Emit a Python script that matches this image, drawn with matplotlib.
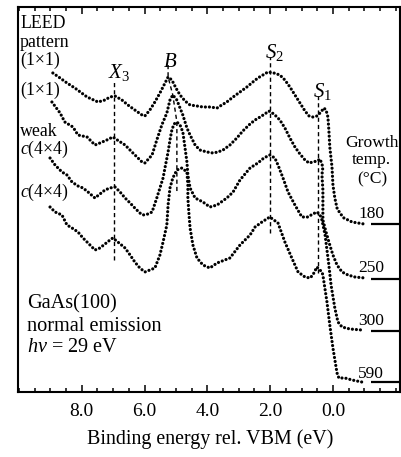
import matplotlib
matplotlib.use('Agg')
import matplotlib.pyplot as plt
from matplotlib.ticker import MultipleLocator, FixedLocator, FormatStrFormatter

plt.rcParams['font.family'] = ['Liberation Serif', 'DejaVu Serif']
plt.rcParams['mathtext.fontset'] = 'custom'
plt.rcParams['mathtext.rm'] = 'Liberation Serif'
plt.rcParams['mathtext.it'] = 'Liberation Serif:italic'

# ---------------- data (binding energy in eV, intensity in arb. units) ----------------
e1 = [8.92, 8.69, 8.47, 8.22, 7.83, 7.48, 7.26, 7.10, 6.94, 6.72, 6.53, 6.31, 6.08, 5.99, 5.83,
      5.67, 5.51, 5.38, 5.25, 5.13, 5.00, 4.87, 4.71, 4.55, 4.33, 4.14, 3.92, 3.69, 3.54, 3.38,
      3.18, 2.96, 2.74, 2.55, 2.39, 2.23, 2.07, 1.88, 1.69, 1.53, 1.37, 1.21, 1.05, 0.89, 0.76,
      0.64, 0.51, 0.38, 0.29, 0.22, 0.16, 0.13, 0.10, 0.03, 0.00, -0.06, -0.13, -0.22, -0.35,
      -0.48, -0.61, -0.80, -0.99]
i1 = [319, 314, 309, 304, 295, 290, 292, 295, 296, 292, 287, 282, 277, 276, 282,
      290, 299, 307, 315, 312, 304, 297, 291, 287, 286, 285, 285, 284, 287, 290,
      295, 300, 305, 310, 314, 317, 320, 319, 317, 312, 305, 297, 289, 281, 276,
      275, 276, 280, 284, 282, 275, 262, 245, 225, 207, 194, 184, 179, 174,
      172, 170, 169, 168]

e2 = [8.95, 8.69, 8.54, 8.28, 8.12, 7.83, 7.58, 7.42, 7.20, 7.01, 6.82, 6.62, 6.37, 6.08, 5.99,
      5.76, 5.61, 5.45, 5.29, 5.19, 5.10, 4.97, 4.87, 4.78, 4.65, 4.55, 4.39, 4.24, 4.01, 3.82,
      3.66, 3.50, 3.28, 3.06, 2.87, 2.64, 2.48, 2.32, 2.17, 2.04, 1.88, 1.69, 1.53, 1.37, 1.21,
      1.05, 0.89, 0.76, 0.64, 0.51, 0.41, 0.32, 0.35, 0.32, 0.32, 0.32, 0.22, 0.10, 0.00, -0.13,
      -0.29, -0.48, -0.70, -1.02]
i2 = [290, 279, 270, 265, 257, 255, 247, 249, 252, 255, 251, 247, 239, 230, 229,
      237, 252, 267, 279, 292, 297, 292, 284, 277, 264, 257, 247, 242, 240, 239,
      240, 242, 247, 254, 261, 268, 272, 275, 278, 281, 278, 272, 264, 254, 245,
      238, 232, 229, 230, 231, 233, 225, 217, 202, 187, 172, 160, 147, 137, 127,
      120, 117, 115, 114]

e3 = [9.01, 8.85, 8.63, 8.47, 8.31, 8.12, 7.96, 7.80, 7.58, 7.42, 7.26, 7.10, 6.94, 6.78, 6.62,
      6.46, 6.31, 6.15, 6.05, 5.89, 5.76, 5.61, 5.51, 5.41, 5.35, 5.25, 5.19, 5.13, 5.06, 4.97,
      4.87, 4.78, 4.71, 4.65, 4.62, 4.55, 4.39, 4.14, 3.92, 3.69, 3.38, 3.18, 2.96, 2.64, 2.39,
      2.20, 2.01, 1.85, 1.75, 1.59, 1.43, 1.21, 0.99, 0.80, 0.64, 0.51, 0.41, 0.35, 0.25, 0.19,
      0.13, 0.06, -0.06, -0.16, -0.29, -0.54, -0.92]
i3 = [234, 227, 220, 217, 210, 206, 204, 200, 194, 198, 202, 204, 205, 200, 194,
      189, 184, 179, 177, 178, 180, 194, 204, 214, 224, 240, 252, 262, 268, 270,
      267, 260, 244, 230, 217, 204, 194, 190, 185, 187, 194, 200, 212, 224, 229,
      234, 237, 234, 227, 214, 200, 187, 175, 175, 178, 180, 177, 172, 157, 142,
      127, 107, 84, 70, 65, 63, 62]

e4 = [9.01, 8.85, 8.63, 8.47, 8.31, 8.12, 7.96, 7.80, 7.58, 7.42, 7.26, 7.10, 7.01, 6.85, 6.62,
      6.46, 6.31, 6.15, 5.99, 5.83, 5.67, 5.51, 5.41, 5.29, 5.25, 5.19, 5.10, 4.97, 4.81, 4.65,
      4.62, 4.62, 4.59, 4.55, 4.46, 4.33, 4.14, 3.92, 3.69, 3.28, 2.96, 2.64, 2.48, 2.26, 2.01,
      1.75, 1.53, 1.31, 1.11, 0.89, 0.73, 0.64, 0.51, 0.35, 0.32, 0.19, 0.10, 0.00, -0.13, -0.19,
      -0.38, -0.61, -0.92]
i4 = [185, 180, 177, 167, 164, 160, 154, 149, 142, 144, 148, 152, 154, 150, 144,
      137, 130, 124, 120, 122, 124, 137, 150, 167, 187, 204, 214, 222, 224, 220,
      207, 194, 180, 164, 147, 134, 127, 124, 129, 134, 147, 157, 165, 170, 175,
      169, 150, 134, 120, 115, 114, 117, 125, 120, 117, 90, 67, 44, 19, 14,
      14, 12, 10]

spectra = [(e1, i1), (e2, i2), (e3, i3), (e4, i4)]
leed_labels = ['(1×1)', '(1×1)', 'weak', '$c$(4×4)']
growth_temps = ['180', '250', '300', '590']
baselines = [168, 113, 61, 10]
tick_values = [8.0, 6.0, 4.0, 2.0, 0.0]

# feature markers: energy and vertical extent of dashed line
feat_names = ['$X_3$', '$B$', '$S_2$', '$S_1$']
feat_x3 = ([6.97, 6.97], [132, 310])
feat_s2 = ([2.00, 2.00], [159, 335])
feat_s1 = ([0.48, 0.48], [119, 296])
feat_b = ([5.25, 5.25, 5.10, 4.97, 4.97], [327, 315, 297, 270, 200])

# ---------------- figure ----------------
W, H = 401, 457
fig = plt.figure(figsize=(W / 100, H / 100), dpi=100)
ax = fig.add_axes([18 / W, (H - 392) / H, 381.5 / W, 385 / H])
ax.set_xlim(10.03, -2.12)
ax.set_ylim(0, 385)

for e, i in spectra:
    ax.plot(e, i, color='black', lw=2.3, linestyle=(0, (0.01, 1.25)),
            dash_capstyle='round')

dash = (0, (3, 2.2))
for fx, fy in [feat_x3, feat_s2, feat_s1, feat_b]:
    ax.plot(fx, fy, color='black', lw=1.0, linestyle=dash)

for b in baselines:
    ax.hlines(b, -1.21, -2.12, color='black', lw=1.6)

ax.xaxis.set_major_locator(FixedLocator(tick_values))
ax.xaxis.set_minor_locator(MultipleLocator(0.5))
ax.xaxis.set_major_formatter(FormatStrFormatter('%.1f'))
ax.set_yticks([])
ax.tick_params(axis='x', which='both', direction='in', top=True, width=1.1,
               labelsize=14, pad=8)
ax.tick_params(axis='x', which='major', length=5)
ax.tick_params(axis='x', which='minor', length=2.8)
for s in ax.spines.values():
    s.set_linewidth(1.5)


def ftext(px, py, s, size, ha='left'):
    fig.text(px / W, 1 - py / H, s, fontsize=size, ha=ha, va='baseline')


ftext(210, 444, 'Binding energy rel. VBM (eV)', 14.4, ha='center')

# feature labels
ftext(108, 78, feat_names[0], 15)
ftext(163, 67, feat_names[1], 15)
ftext(265, 58, feat_names[2], 15)
ftext(313, 97, feat_names[3], 15)

# left labels
ftext(20, 28, 'LEED', 12.8)
ftext(20, 47, 'pattern', 12.8)
ftext(20, 65, '(1×1)', 12.8)
ftext(20, 95, leed_labels[0], 12.8)
ftext(20, 136, leed_labels[2], 12.8)
ftext(20, 154, '$c$(4×4)', 12.8)
ftext(20, 197, leed_labels[3], 12.8)

# bottom-left text
ftext(27, 308, 'GaAs(100)', 14.6)
ftext(27, 331, 'normal emission', 14.6)
ftext(27, 352, r'$h\nu$ = 29 eV', 14.6)

# right labels
ftext(372, 147, 'Growth', 12.6, ha='center')
ftext(371, 164, 'temp.', 12.6, ha='center')
ftext(372, 183, '(°C)', 12.6, ha='center')
for t, py in zip(growth_temps, [218, 272, 325, 378]):
    ftext(371, py, t, 12.5, ha='center')

fig.savefig('out.png', dpi=100)
